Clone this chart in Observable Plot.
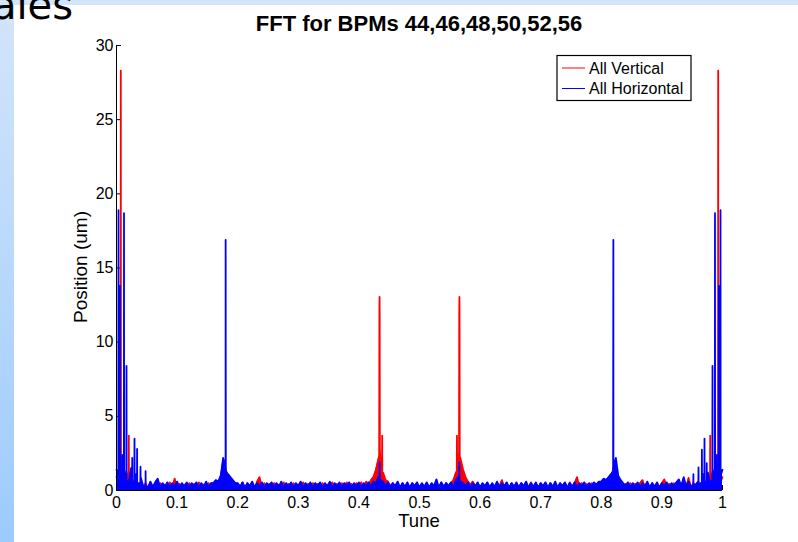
<!DOCTYPE html>
<html><head><meta charset="utf-8">
<script src="https://cdn.jsdelivr.net/npm/d3@7"></script>
<script src="https://cdn.jsdelivr.net/npm/@observablehq/plot@0.6"></script>
<style>
html,body{margin:0;padding:0;background:#fff;}
#page{position:relative;width:798px;height:542px;overflow:hidden;background:#fff;}
#topband{position:absolute;left:0;top:0;width:798px;height:5px;background:#d2e5fb;}
#leftband{position:absolute;left:0;top:0;width:14px;height:542px;background:linear-gradient(#d3e5fa,#9dcbfd);}
#chart{position:absolute;left:0;top:0;}
</style>
</head><body>
<div id="page"><div id="topband"></div><div id="leftband"></div><div id="chart"></div></div>
<script>
// ---- data ----
const titleText = "FFT for BPMs 44,46,48,50,52,56";
const xLabel = "Tune";
const yLabel = "Position (um)";
const seriesNames = ["All Vertical", "All Horizontal"];
const xTicks = [0, 0.1, 0.2, 0.3, 0.4, 0.5, 0.6, 0.7, 0.8, 0.9, 1];
const yTicks = [0, 5, 10, 15, 20, 25, 30];
const tuneStep = 0.004; // FFT bin spacing of the noise-floor samples

const vertNoise = [
 0.9,0.5,1.2,0.4,1.3,0.6,1.0,0.4,0.7,0.3,
 0.6,0.2,0.5,0.15,0.4,0.2,0.45,0.1,0.5,0.2,
 0.4,0.12,0.55,0.2,0.8,0.15,0.45,0.1,0.4,0.2,
 0.5,0.1,0.45,0.2,0.55,0.15,0.4,0.12,0.5,0.2,
 0.45,0.15,0.5,0.3,0.7,1.5,0.8,0.35,0.5,0.15,
 0.45,0.2,0.55,0.1,0.5,0.2,0.4,0.15,0.6,0.9,
 0.2,0.5,0.1,0.45,0.2,0.5,0.15,0.4,0.1,0.55,
 0.2,0.45,0.1,0.5,0.15,0.4,0.2,0.55,0.1,0.45,
 0.2,0.5,0.15,0.45,0.1,0.5,0.2,0.4,0.15,0.55,
 0.2,0.45,0.1,0.5,0.2,0.55,0.15,0.45,0.2,0.5,
 0.3,0.55,0.2,0.6,0.4,0.7,0.9,1.4,2.1,1.6,
 1.2,0.7,0.6,0.3,0.5,0.2,0.45,0.15,0.5,0.2,
 0.45,0.1,0.5,0.2,0.4,0.15,0.45,0.2,0.5,0.1,
 0.45,0.2,0.5,0.15,0.55,0.2,0.5,0.3,0.5,0.7,
 1.2,1.6,2.1,1.4,0.9,0.6,0.4,0.6,0.3,0.5,
 0.2,0.45,0.1,0.5,0.2,0.45,0.15,0.5,0.3,0.7,
 0.2,0.45,0.1,0.5,0.15,0.4,0.2,0.5,0.1,0.45,
 0.2,0.55,0.15,0.45,0.1,0.5,0.2,0.4,0.15,0.5,
 0.2,0.45,0.1,0.5,0.2,0.45,0.15,0.55,0.2,0.5,
 0.9,0.2,0.5,0.15,0.45,0.2,0.5,0.1,0.45,0.2,
 0.5,0.15,0.45,0.35,0.8,1.5,0.7,0.3,0.5,0.2,
 0.45,0.1,0.5,0.2,0.45,0.15,0.5,0.7,0.2,0.45,
 0.1,0.5,0.2,0.45,0.15,0.5,0.75,0.2,0.45,0.1,
 0.5,0.2,0.45,0.15,0.5,0.2,0.85,0.2,0.5,0.3,
 0.6,0.3,0.7,0.4,1.0,0.5,1.3,0.4,1.2,0.5,0.9
];
const horizNoise = [
 1.4,0.6,1.3,0.8,1.2,0.5,1.5,0.6,1.1,0.5,
 0.9,0.3,0.7,0.2,0.6,0.25,0.55,0.8,0.2,0.5,
 0.25,0.55,0.2,0.5,0.3,0.6,0.2,0.5,0.25,0.55,
 0.2,0.5,0.3,0.55,0.2,0.5,0.25,0.6,0.2,0.5,
 0.5,0.7,0.6,1.0,2.2,1.4,1.1,0.9,0.7,0.5,
 0.5,0.25,0.55,0.2,0.5,0.3,0.6,0.2,0.5,0.25,
 0.55,0.2,0.5,0.3,0.55,0.2,0.5,0.25,0.6,0.2,
 0.5,0.25,0.55,0.2,0.5,0.3,0.6,0.2,0.5,0.25,
 0.55,0.2,0.5,0.3,0.55,0.2,0.5,0.25,0.6,0.2,
 0.5,0.25,0.55,0.2,0.5,0.3,0.55,0.2,0.5,0.25,
 0.55,0.2,0.5,0.3,0.55,0.25,0.6,0.5,0.9,0.7,
 0.6,0.3,0.55,0.2,0.5,0.3,0.6,0.2,0.5,0.25,
 0.55,0.2,0.5,0.3,0.55,0.2,0.5,0.25,0.55,0.2,
 0.5,0.3,0.75,0.2,0.55,0.25,0.5,0.3,0.55,0.2,
 0.7,0.9,0.6,0.5,0.3,0.55,0.2,0.5,0.25,0.55,
 0.2,0.5,0.3,0.55,0.2,0.5,0.25,0.6,0.2,0.5,
 0.3,0.55,0.2,0.5,0.25,0.55,0.2,0.5,0.3,0.6,
 0.2,0.5,0.25,0.55,0.2,0.5,0.3,0.55,0.2,0.5,
 0.25,0.6,0.2,0.5,0.3,0.55,0.2,0.5,0.25,0.55,
 0.2,0.5,0.3,0.55,0.2,0.5,0.3,0.55,0.4,0.6,
 0.6,0.8,0.7,0.9,1.1,1.4,2.2,1.0,0.7,0.5,
 0.3,0.55,0.2,0.5,0.25,0.55,0.2,0.5,0.3,0.6,
 0.2,0.5,0.25,0.55,0.2,0.5,0.3,0.55,0.2,0.5,
 0.3,0.55,0.75,0.3,0.9,0.3,0.6,0.25,0.7,0.4,
 0.6,0.5,1.1,0.6,1.2,0.5,1.4,0.6,1.3,0.5,1.4
];

const vertPeakTune = [0.0069,0.0071,0.0073, 0.0201,0.0203,0.0205, 0.4336,0.4339,0.4341,0.4343,0.4346, 0.4381,0.4384,0.4387,
  0.5615,0.5618,0.5621, 0.5654,0.5657,0.5659,0.5661,0.5664, 0.9795,0.9797,0.9799, 0.9927,0.9929,0.9931];
const vertPeakValue = [0.8,28.3,0.9, 0.6,3.7,0.7, 2.4,12.2,13.05,11.8,2.8, 1.4,3.7,1.2,
  1.3,3.7,1.5, 2.6,11.8,13.05,12.2,2.3, 0.7,3.7,0.6, 0.9,28.3,0.8];

const horizPeakTune = [0.0031,0.0033,0.0035, 0.0058,0.006,0.0062, 0.0092,0.0094,0.0096, 0.0122,0.0124,0.0126,
  0.0163,0.0165,0.0167, 0.0258,0.026,0.0262, 0.0295,0.0297,0.0299, 0.0338,0.034,0.0342, 0.0394,0.0396,0.0398,
  0.0478,0.048,0.0482, 0.1798,0.1801,0.1804, 0.4339,0.4342,0.4345, 0.5655,0.5658,0.5661, 0.8196,0.8199,0.8202,
  0.9518,0.952,0.9522, 0.9602,0.9604,0.9606, 0.9658,0.966,0.9662, 0.9701,0.9703,0.9705, 0.9738,0.974,0.9742,
  0.9833,0.9835,0.9837, 0.9874,0.9876,0.9878, 0.9904,0.9906,0.9908, 0.9938,0.994,0.9942, 0.9965,0.9967,0.9969];
const horizPeakValue = [1.0,18.9,0.9, 0.8,13.8,0.7, 0.9,2.4,0.8, 0.7,18.7,0.8,
  0.6,8.4,0.7, 0.5,2.2,0.4, 0.4,3.5,0.5, 0.4,2.8,0.3, 0.3,1.6,0.4,
  0.3,1.3,0.3, 1.5,16.9,1.3, 0.5,1.9,0.4, 0.4,1.9,0.5, 1.3,16.9,1.5,
  0.3,1.1,0.4, 0.4,1.55,0.3, 0.3,2.75,0.4, 0.5,3.5,0.4, 0.4,1.85,0.5,
  0.7,8.4,0.6, 0.8,18.7,0.7, 0.8,2.4,0.9, 0.7,13.8,0.8, 0.9,18.9,1.0];

// ---- build ----
const colors = {vert: "#ff0000", horiz: "#0000ff"};
function buildRows(noise, pt, pv) {
  const rows = noise.map((v, i) => ({tune: i * tuneStep, value: v}));
  pt.forEach((t, j) => rows.push({tune: t, value: pv[j]}));
  rows.sort((a, b) => a.tune - b.tune);
  return rows;
}
const vertRows = buildRows(vertNoise, vertPeakTune, vertPeakValue);
const horizRows = buildRows(horizNoise, horizPeakTune, horizPeakValue);

const W = 798, H = 542, mL = 116, mR = 76, mT = 45, mB = 52;
const plot = Plot.plot({
  width: W, height: H,
  marginLeft: mL, marginRight: mR, marginTop: mT, marginBottom: mB,
  style: {background: "transparent", fontFamily: "Liberation Sans, Arial, sans-serif", fontSize: "16px", color: "#000", overflow: "visible"},
  x: {domain: [0, 1]},
  y: {domain: [0, 30]},
  marks: [
    // tick labels
    Plot.axisX({ticks: xTicks, tickSize: 0, tickPadding: 6, tickFormat: d => String(d), label: null}),
    Plot.axisY({ticks: yTicks, tickSize: 0, tickPadding: 3, tickFormat: d => String(d), label: null}),
    // inward tick marks (MATLAB style)
    Plot.axisX({ticks: xTicks, tickSize: 5, dy: -5, tickFormat: () => "", label: null}),
    Plot.axisY({ticks: yTicks, tickSize: 5, dx: 5, tickFormat: () => "", label: null}),
    Plot.areaY(vertRows, {x: "tune", y: "value", fill: colors.vert}),
    Plot.lineY(vertRows, {x: "tune", y: "value", stroke: colors.vert, strokeWidth: 1.8}),
    Plot.areaY(horizRows, {x: "tune", y: "value", fill: colors.horiz}),
    Plot.lineY(horizRows, {x: "tune", y: "value", stroke: colors.horiz, strokeWidth: 1.8}),
    Plot.ruleY([0], {stroke: "#000"}),
    Plot.ruleX([0], {stroke: "#000"})
  ]
});
document.getElementById("chart").appendChild(plot);

const svg = d3.select(plot);
const font = "Liberation Sans, Arial, sans-serif";
const cx = mL + (W - mL - mR) / 2;
svg.append("text").attr("x", 73).attr("y", 19).attr("text-anchor", "end")
  .attr("font-family", "Comic Sans MS, DejaVu Sans, sans-serif").attr("font-size", 40).attr("fill", "#000").text("ales");
svg.append("text").attr("x", cx).attr("y", 31).attr("text-anchor", "middle")
  .attr("font-family", font).attr("font-weight", "bold").attr("font-size", 22).attr("fill", "#000").text(titleText);
svg.append("text").attr("x", cx).attr("y", 527).attr("text-anchor", "middle")
  .attr("font-family", font).attr("font-size", 18.5).attr("fill", "#000").text(xLabel);
svg.append("text").attr("transform", "translate(87,267) rotate(-90)").attr("text-anchor", "middle")
  .attr("font-family", font).attr("font-size", 19).attr("fill", "#000").text(yLabel);

// legend
const lg = svg.append("g");
lg.append("rect").attr("x", 557).attr("y", 55.5).attr("width", 134).attr("height", 45)
  .attr("fill", "#fff").attr("stroke", "#000").attr("stroke-width", 1.2);
const legendColors = [colors.vert, colors.horiz];
seriesNames.forEach((name, i) => {
  const y = 68 + i * 20.5;
  lg.append("line").attr("x1", 562).attr("x2", 585).attr("y1", y).attr("y2", y)
    .attr("stroke", legendColors[i]).attr("stroke-width", 1);
  lg.append("text").attr("x", 589).attr("y", y).attr("dy", "0.35em").attr("text-anchor", "start")
    .attr("font-family", font).attr("font-size", 16).attr("fill", "#000").text(name);
});
</script>
</body></html>
